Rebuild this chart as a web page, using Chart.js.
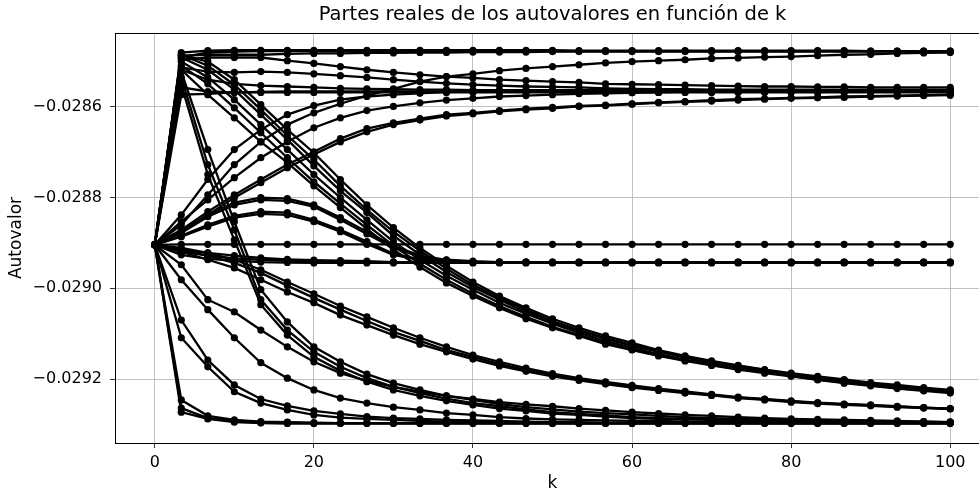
<!DOCTYPE html>
<html>
<head>
<meta charset="utf-8">
<title>Autovalores</title>
<script src="https://cdn.jsdelivr.net/npm/chart.js@4.4.1/dist/chart.umd.min.js"></script>
<style>
  html, body { margin: 0; padding: 0; background: #fff; overflow: hidden; }
  canvas { display: block; }
</style>
</head>
<body>
<canvas id="chart" width="1000" height="495"></canvas>
<script>
// k = linspace(0, 100, 31)
const kValues = [0, 3.333, 6.667, 10, 13.333, 16.667, 20, 23.333, 26.667, 30, 33.333,
  36.667, 40, 43.333, 46.667, 50, 53.333, 56.667, 60, 63.333, 66.667,
  70, 73.333, 76.667, 80, 83.333, 86.667, 90, 93.333, 96.667, 100];

const xTicks = [0, 20, 40, 60, 80, 100];
const yTicks = [-0.0286, -0.0288, -0.0290, -0.0292];

// ── upper branch (-0.02848) ──
const top1 = [-0.028904, -0.028480, -0.028476, -0.028475, -0.028475, -0.028475, -0.028475, -0.028475, -0.028475, -0.028475, -0.028475,
  -0.028475, -0.028475, -0.028475, -0.028475, -0.028475, -0.028476, -0.028476, -0.028476, -0.028476, -0.028476,
  -0.028476, -0.028476, -0.028476, -0.028476, -0.028476, -0.028476, -0.028477, -0.028477, -0.028477, -0.028477];
const top2 = [-0.028904, -0.028487, -0.028485, -0.028485, -0.028485, -0.028483, -0.028482, -0.028482, -0.028481, -0.028481, -0.028480,
  -0.028480, -0.028479, -0.028479, -0.028479, -0.028478, -0.028478, -0.028478, -0.028478, -0.028478, -0.028478,
  -0.028478, -0.028478, -0.028478, -0.028478, -0.028478, -0.028478, -0.028478, -0.028478, -0.028478, -0.028478];
const top3 = [-0.028904, -0.028491, -0.028480, -0.028478, -0.028477, -0.028477, -0.028477, -0.028477, -0.028477, -0.028477, -0.028477,
  -0.028477, -0.028477, -0.028477, -0.028477, -0.028477, -0.028477, -0.028477, -0.028477, -0.028477, -0.028477,
  -0.028477, -0.028477, -0.028477, -0.028477, -0.028477, -0.028477, -0.028477, -0.028477, -0.028477, -0.028477];
const rise1 = [-0.028904, -0.028860, -0.028794, -0.028727, -0.028677, -0.028639, -0.028613, -0.028593, -0.028575, -0.028560, -0.028544,
  -0.028533, -0.028527, -0.028520, -0.028515, -0.028511, -0.028507, -0.028503, -0.028500, -0.028498, -0.028496,
  -0.028493, -0.028492, -0.028490, -0.028489, -0.028487, -0.028485, -0.028484, -0.028482, -0.028481, -0.028480];

// ── second branch (-0.02856) ──
const mid1 = [-0.028904, -0.028496, -0.028491, -0.028491, -0.028491, -0.028498, -0.028504, -0.028511, -0.028518, -0.028524, -0.028529,
  -0.028533, -0.028536, -0.028540, -0.028542, -0.028544, -0.028546, -0.028549, -0.028550, -0.028551, -0.028552,
  -0.028553, -0.028554, -0.028555, -0.028555, -0.028556, -0.028556, -0.028557, -0.028557, -0.028557, -0.028557];
const mid2 = [-0.028904, -0.028513, -0.028522, -0.028524, -0.028522, -0.028524, -0.028527, -0.028531, -0.028535, -0.028540, -0.028544,
  -0.028548, -0.028551, -0.028553, -0.028555, -0.028556, -0.028557, -0.028559, -0.028560, -0.028561, -0.028561,
  -0.028562, -0.028562, -0.028562, -0.028562, -0.028562, -0.028562, -0.028562, -0.028562, -0.028562, -0.028562];
const flat1 = [-0.028904, -0.028518, -0.028540, -0.028549, -0.028553, -0.028555, -0.028557, -0.028559, -0.028560, -0.028561, -0.028562,
  -0.028562, -0.028563, -0.028563, -0.028563, -0.028563, -0.028563, -0.028563, -0.028563, -0.028563, -0.028563,
  -0.028563, -0.028563, -0.028563, -0.028563, -0.028563, -0.028563, -0.028564, -0.028564, -0.028564, -0.028564];
const flat2 = [-0.028904, -0.028557, -0.028566, -0.028568, -0.028568, -0.028568, -0.028568, -0.028568, -0.028568, -0.028568, -0.028568,
  -0.028568, -0.028568, -0.028568, -0.028568, -0.028568, -0.028568, -0.028568, -0.028568, -0.028568, -0.028568,
  -0.028568, -0.028568, -0.028568, -0.028568, -0.028568, -0.028568, -0.028568, -0.028568, -0.028568, -0.028568];
const flat3 = [-0.028904, -0.028573, -0.028571, -0.028568, -0.028567, -0.028566, -0.028566, -0.028566, -0.028566, -0.028566, -0.028566,
  -0.028566, -0.028566, -0.028566, -0.028566, -0.028566, -0.028566, -0.028566, -0.028566, -0.028566, -0.028566,
  -0.028566, -0.028566, -0.028566, -0.028566, -0.028566, -0.028566, -0.028566, -0.028566, -0.028566, -0.028566];
const up1 = [-0.028904, -0.028871, -0.028831, -0.028794, -0.028760, -0.028727, -0.028699, -0.028670, -0.028648, -0.028635, -0.028626,
  -0.028617, -0.028613, -0.028608, -0.028604, -0.028601, -0.028598, -0.028596, -0.028593, -0.028590, -0.028588,
  -0.028585, -0.028583, -0.028582, -0.028580, -0.028579, -0.028577, -0.028576, -0.028575, -0.028574, -0.028573];
const up2 = [-0.028904, -0.028853, -0.028805, -0.028756, -0.028712, -0.028677, -0.028646, -0.028624, -0.028608, -0.028599, -0.028591,
  -0.028585, -0.028581, -0.028577, -0.028575, -0.028573, -0.028571, -0.028570, -0.028569, -0.028568, -0.028567,
  -0.028567, -0.028566, -0.028566, -0.028566, -0.028566, -0.028566, -0.028566, -0.028566, -0.028566, -0.028566];
const up3 = [-0.028904, -0.028875, -0.028838, -0.028800, -0.028767, -0.028734, -0.028705, -0.028677, -0.028655, -0.028639, -0.028629,
  -0.028620, -0.028615, -0.028610, -0.028606, -0.028603, -0.028599, -0.028597, -0.028594, -0.028591, -0.028589,
  -0.028587, -0.028585, -0.028583, -0.028581, -0.028580, -0.028579, -0.028577, -0.028576, -0.028575, -0.028574];
const up4 = [-0.028904, -0.028838, -0.028760, -0.028694, -0.028650, -0.028617, -0.028597, -0.028584, -0.028577, -0.028573, -0.028570,
  -0.028567, -0.028566, -0.028566, -0.028566, -0.028566, -0.028566, -0.028566, -0.028566, -0.028566, -0.028566,
  -0.028566, -0.028566, -0.028566, -0.028566, -0.028566, -0.028566, -0.028566, -0.028566, -0.028566, -0.028566];

// ── branches falling to -0.02922 ──
const down1 = [-0.028904, -0.028485, -0.028500, -0.028540, -0.028595, -0.028650, -0.028701, -0.028760, -0.028816, -0.028866, -0.028911,
  -0.028950, -0.028986, -0.029017, -0.029043, -0.029067, -0.029087, -0.029105, -0.029120, -0.029136, -0.029149,
  -0.029160, -0.029170, -0.029179, -0.029187, -0.029194, -0.029201, -0.029208, -0.029213, -0.029219, -0.029224];
const down2 = [-0.028904, -0.028491, -0.028518, -0.028562, -0.028617, -0.028672, -0.028730, -0.028785, -0.028833, -0.028884, -0.028926,
  -0.028964, -0.028997, -0.029025, -0.029052, -0.029074, -0.029094, -0.029111, -0.029127, -0.029140, -0.029153,
  -0.029164, -0.029173, -0.029182, -0.029190, -0.029198, -0.029204, -0.029211, -0.029216, -0.029222, -0.029226];
const down3 = [-0.028904, -0.028500, -0.028535, -0.028584, -0.028639, -0.028694, -0.028749, -0.028800, -0.028849, -0.028897, -0.028937,
  -0.028972, -0.029003, -0.029032, -0.029056, -0.029078, -0.029098, -0.029116, -0.029131, -0.029145, -0.029157,
  -0.029167, -0.029176, -0.029184, -0.029192, -0.029200, -0.029206, -0.029213, -0.029219, -0.029224, -0.029228];
const down4 = [-0.028904, -0.028509, -0.028549, -0.028602, -0.028657, -0.028712, -0.028765, -0.028813, -0.028860, -0.028906, -0.028946,
  -0.028981, -0.029012, -0.029039, -0.029063, -0.029085, -0.029103, -0.029120, -0.029135, -0.029148, -0.029159,
  -0.029169, -0.029178, -0.029185, -0.029193, -0.029201, -0.029208, -0.029214, -0.029220, -0.029225, -0.029228];
const down5 = [-0.028904, -0.028485, -0.028509, -0.028551, -0.028606, -0.028663, -0.028716, -0.028774, -0.028827, -0.028875, -0.028917,
  -0.028957, -0.028992, -0.029021, -0.029047, -0.029072, -0.029092, -0.029109, -0.029125, -0.029138, -0.029151,
  -0.029162, -0.029171, -0.029180, -0.029189, -0.029196, -0.029203, -0.029210, -0.029215, -0.029221, -0.029226];
const down6 = [-0.028904, -0.028518, -0.028573, -0.028624, -0.028677, -0.028723, -0.028774, -0.028822, -0.028869, -0.028915, -0.028953,
  -0.028988, -0.029017, -0.029043, -0.029067, -0.029087, -0.029105, -0.029123, -0.029136, -0.029149, -0.029160,
  -0.029170, -0.029179, -0.029187, -0.029194, -0.029202, -0.029209, -0.029215, -0.029221, -0.029226, -0.029231];

// ── steep drops from the top into the lowest branch ──
const drop1 = [-0.028904, -0.028522, -0.028694, -0.028853, -0.029003, -0.029074, -0.029129, -0.029162, -0.029189, -0.029209, -0.029224,
  -0.029237, -0.029246, -0.029255, -0.029262, -0.029267, -0.029272, -0.029275, -0.029278, -0.029281, -0.029284,
  -0.029286, -0.029288, -0.029289, -0.029290, -0.029291, -0.029292, -0.029292, -0.029294, -0.029294, -0.029295];
const drop2 = [-0.028904, -0.028535, -0.028727, -0.028871, -0.029025, -0.029092, -0.029140, -0.029173, -0.029198, -0.029217, -0.029231,
  -0.029243, -0.029253, -0.029260, -0.029267, -0.029273, -0.029277, -0.029280, -0.029284, -0.029286, -0.029288,
  -0.029289, -0.029290, -0.029291, -0.029292, -0.029292, -0.029294, -0.029294, -0.029295, -0.029295, -0.029295];
const drop3 = [-0.028904, -0.028551, -0.028749, -0.028893, -0.029036, -0.029103, -0.029151, -0.029182, -0.029206, -0.029224, -0.029237,
  -0.029248, -0.029257, -0.029265, -0.029270, -0.029276, -0.029279, -0.029283, -0.029286, -0.029288, -0.029289,
  -0.029290, -0.029291, -0.029292, -0.029292, -0.029294, -0.029294, -0.029295, -0.029295, -0.029295, -0.029296];

// ── gentle slope to -0.02926 ──
const slope1 = [-0.028904, -0.028915, -0.028928, -0.028944, -0.028966, -0.028994, -0.029021, -0.029047, -0.029072, -0.029096, -0.029116,
  -0.029136, -0.029151, -0.029167, -0.029180, -0.029191, -0.029200, -0.029209, -0.029216, -0.029223, -0.029230,
  -0.029235, -0.029241, -0.029245, -0.029249, -0.029253, -0.029256, -0.029258, -0.029261, -0.029263, -0.029265];
const slope2 = [-0.028904, -0.028919, -0.028937, -0.028955, -0.028981, -0.029008, -0.029032, -0.029059, -0.029081, -0.029103, -0.029123,
  -0.029140, -0.029156, -0.029171, -0.029183, -0.029194, -0.029203, -0.029211, -0.029219, -0.029225, -0.029231,
  -0.029236, -0.029242, -0.029246, -0.029251, -0.029254, -0.029257, -0.029259, -0.029262, -0.029264, -0.029266];
const slope3 = [-0.028904, -0.028911, -0.028922, -0.028937, -0.028959, -0.028986, -0.029012, -0.029039, -0.029063, -0.029087, -0.029109,
  -0.029129, -0.029147, -0.029162, -0.029176, -0.029188, -0.029198, -0.029206, -0.029214, -0.029221, -0.029227,
  -0.029234, -0.029240, -0.029244, -0.029248, -0.029252, -0.029255, -0.029257, -0.029260, -0.029263, -0.029265];

// ── lowest branch (-0.02930) ──
const low1 = [-0.028904, -0.029264, -0.029286, -0.029292, -0.029295, -0.029296, -0.029297, -0.029297, -0.029297, -0.029297, -0.029297,
  -0.029297, -0.029297, -0.029297, -0.029297, -0.029297, -0.029297, -0.029297, -0.029297, -0.029297, -0.029297,
  -0.029297, -0.029297, -0.029297, -0.029297, -0.029297, -0.029297, -0.029297, -0.029297, -0.029297, -0.029297];
const low2 = [-0.028904, -0.029273, -0.029288, -0.029295, -0.029297, -0.029298, -0.029298, -0.029298, -0.029298, -0.029298, -0.029298,
  -0.029298, -0.029298, -0.029298, -0.029298, -0.029298, -0.029298, -0.029298, -0.029298, -0.029298, -0.029298,
  -0.029298, -0.029298, -0.029298, -0.029298, -0.029298, -0.029298, -0.029298, -0.029298, -0.029298, -0.029298];
const low3 = [-0.028904, -0.029246, -0.029281, -0.029290, -0.029294, -0.029295, -0.029296, -0.029297, -0.029297, -0.029297, -0.029297,
  -0.029297, -0.029297, -0.029297, -0.029297, -0.029297, -0.029297, -0.029297, -0.029297, -0.029297, -0.029297,
  -0.029297, -0.029297, -0.029297, -0.029297, -0.029297, -0.029297, -0.029297, -0.029297, -0.029297, -0.029297];
const low4 = [-0.028904, -0.029109, -0.029173, -0.029228, -0.029253, -0.029268, -0.029279, -0.029285, -0.029288, -0.029290, -0.029292,
  -0.029294, -0.029295, -0.029295, -0.029296, -0.029296, -0.029297, -0.029297, -0.029297, -0.029297, -0.029297,
  -0.029297, -0.029297, -0.029297, -0.029297, -0.029297, -0.029297, -0.029297, -0.029297, -0.029297, -0.029297];
const low5 = [-0.028904, -0.028981, -0.029047, -0.029109, -0.029164, -0.029198, -0.029224, -0.029242, -0.029253, -0.029262, -0.029268,
  -0.029275, -0.029279, -0.029284, -0.029287, -0.029289, -0.029290, -0.029291, -0.029292, -0.029292, -0.029294,
  -0.029294, -0.029295, -0.029295, -0.029295, -0.029295, -0.029296, -0.029296, -0.029296, -0.029296, -0.029296];
const low6 = [-0.028904, -0.028948, -0.029025, -0.029052, -0.029092, -0.029129, -0.029162, -0.029187, -0.029204, -0.029217, -0.029228,
  -0.029237, -0.029244, -0.029251, -0.029256, -0.029260, -0.029265, -0.029269, -0.029273, -0.029276, -0.029279,
  -0.029281, -0.029284, -0.029286, -0.029288, -0.029289, -0.029290, -0.029291, -0.029292, -0.029294, -0.029295];
const low7 = [-0.028904, -0.029070, -0.029158, -0.029213, -0.029244, -0.029259, -0.029270, -0.029277, -0.029283, -0.029286, -0.029288,
  -0.029290, -0.029291, -0.029292, -0.029294, -0.029295, -0.029295, -0.029296, -0.029296, -0.029296, -0.029296,
  -0.029296, -0.029296, -0.029296, -0.029296, -0.029296, -0.029296, -0.029296, -0.029296, -0.029296, -0.029296];

// ── near the starting value (-0.02890 / -0.02894) ──
const hump1 = [-0.028904, -0.028875, -0.028838, -0.028811, -0.028800, -0.028802, -0.028816, -0.028844, -0.028875, -0.028906, -0.028928,
  -0.028937, -0.028940, -0.028942, -0.028942, -0.028943, -0.028943, -0.028943, -0.028943, -0.028943, -0.028943,
  -0.028943, -0.028943, -0.028943, -0.028943, -0.028943, -0.028943, -0.028943, -0.028943, -0.028943, -0.028943];
const hump2 = [-0.028904, -0.028884, -0.028860, -0.028840, -0.028831, -0.028833, -0.028849, -0.028871, -0.028897, -0.028924, -0.028936,
  -0.028940, -0.028942, -0.028943, -0.028943, -0.028943, -0.028943, -0.028943, -0.028943, -0.028943, -0.028943,
  -0.028943, -0.028943, -0.028943, -0.028943, -0.028943, -0.028943, -0.028943, -0.028943, -0.028943, -0.028943];
const hump3 = [-0.028904, -0.028878, -0.028842, -0.028816, -0.028805, -0.028807, -0.028820, -0.028849, -0.028880, -0.028911, -0.028930,
  -0.028938, -0.028942, -0.028943, -0.028943, -0.028943, -0.028943, -0.028943, -0.028943, -0.028943, -0.028943,
  -0.028943, -0.028943, -0.028943, -0.028943, -0.028943, -0.028943, -0.028943, -0.028943, -0.028943, -0.028943];
const hump4 = [-0.028904, -0.028886, -0.028864, -0.028844, -0.028836, -0.028838, -0.028853, -0.028875, -0.028902, -0.028926, -0.028937,
  -0.028942, -0.028943, -0.028943, -0.028943, -0.028943, -0.028943, -0.028943, -0.028943, -0.028943, -0.028943,
  -0.028943, -0.028943, -0.028943, -0.028943, -0.028943, -0.028943, -0.028943, -0.028943, -0.028943, -0.028943];
const dip1 = [-0.028904, -0.028919, -0.028928, -0.028934, -0.028937, -0.028939, -0.028940, -0.028942, -0.028942, -0.028942, -0.028942,
  -0.028942, -0.028942, -0.028942, -0.028942, -0.028942, -0.028942, -0.028942, -0.028942, -0.028942, -0.028942,
  -0.028942, -0.028942, -0.028942, -0.028942, -0.028942, -0.028942, -0.028942, -0.028942, -0.028942, -0.028942];
const dip2 = [-0.028904, -0.028926, -0.028935, -0.028939, -0.028942, -0.028943, -0.028944, -0.028944, -0.028944, -0.028944, -0.028944,
  -0.028944, -0.028944, -0.028944, -0.028944, -0.028944, -0.028944, -0.028944, -0.028944, -0.028944, -0.028944,
  -0.028944, -0.028944, -0.028944, -0.028944, -0.028944, -0.028944, -0.028944, -0.028944, -0.028944, -0.028944];
const dip3 = [-0.028904, -0.028915, -0.028922, -0.028928, -0.028933, -0.028936, -0.028938, -0.028939, -0.028940, -0.028942, -0.028942,
  -0.028942, -0.028942, -0.028942, -0.028942, -0.028942, -0.028942, -0.028942, -0.028942, -0.028942, -0.028942,
  -0.028942, -0.028942, -0.028942, -0.028942, -0.028942, -0.028942, -0.028942, -0.028942, -0.028942, -0.028942];
const level = [-0.028904, -0.028903, -0.028903, -0.028903, -0.028903, -0.028903, -0.028903, -0.028903, -0.028903, -0.028903, -0.028903,
  -0.028903, -0.028903, -0.028903, -0.028903, -0.028903, -0.028903, -0.028903, -0.028903, -0.028903, -0.028903,
  -0.028903, -0.028903, -0.028903, -0.028903, -0.028903, -0.028903, -0.028903, -0.028903, -0.028903, -0.028903];

const eigenSeries = [top1, top2, top3, rise1, mid1, mid2, flat1, flat2, flat3, up1, up2, up3, up4,
  down1, down2, down3, down4, down5, down6, drop1, drop2, drop3, slope1, slope2, slope3,
  low1, low2, low3, low4, low5, low6, low7, hump1, hump2, hump3, hump4, dip1, dip2, dip3, level];

const FONT = '"DejaVu Sans", "Liberation Sans", sans-serif';
const TITLE = 'Partes reales de los autovalores en función de k';
const fmtY = v => v.toFixed(4).replace('-', '\u2212');

// frame, title and axis names drawn after the plot
const frame = {
  id: 'frame',
  afterDraw(chart) {
    const { ctx, chartArea: a } = chart;
    ctx.save();
    ctx.strokeStyle = '#000';
    ctx.lineWidth = 1;
    ctx.strokeRect(a.left + 0.5, a.top + 0.5, a.right - a.left, a.bottom - a.top);
    ctx.fillStyle = '#000';
    ctx.textAlign = 'center';
    ctx.textBaseline = 'middle';
    const cx = (a.left + a.right) / 2;
    ctx.font = `19.5px ${FONT}`;
    ctx.fillText(TITLE, cx, 15);
    ctx.font = `17px ${FONT}`;
    ctx.fillText('k', cx, 484);
    ctx.translate(17, (a.top + a.bottom) / 2);
    ctx.rotate(-Math.PI / 2);
    ctx.fillText('Autovalor', 0, 0);
    ctx.restore();
  }
};

new Chart(document.getElementById('chart'), {
  type: 'line',
  data: {
    datasets: eigenSeries.map(vals => ({
      data: vals.map((y, i) => ({ x: kValues[i], y })),
      borderColor: '#000',
      backgroundColor: '#000',
      borderWidth: 2.3,
      pointRadius: 3.6,
      pointBorderWidth: 0,
      pointHoverRadius: 3.6,
    })),
  },
  options: {
    responsive: false,
    animation: false,
    devicePixelRatio: 1,
    events: [],
    layout: { padding: { top: 33, right: 10, left: 0, bottom: 0 } },
    plugins: { legend: { display: false }, title: { display: false }, tooltip: { enabled: false } },
    scales: {
      x: {
        type: 'linear',
        min: -5,
        max: 105,
        afterFit: s => { s.height = 52; },
        afterBuildTicks: s => { s.ticks = xTicks.map(v => ({ value: v })); },
        grid: { color: '#b0b0b0', lineWidth: 0.8, tickColor: '#000', tickLength: 5 },
        border: { display: false },
        ticks: { color: '#000', padding: 5, font: { family: FONT, size: 16 }, callback: v => String(v) },
      },
      y: {
        type: 'linear',
        min: -0.029341,
        max: -0.028437,
        afterFit: s => { s.width = 115; },
        afterBuildTicks: s => { s.ticks = yTicks.map(v => ({ value: v })); },
        grid: { color: '#b0b0b0', lineWidth: 0.8, tickColor: '#000', tickLength: 5 },
        border: { display: false },
        ticks: { color: '#000', padding: 8, font: { family: FONT, size: 16 }, callback: v => fmtY(v) },
      },
    },
  },
  plugins: [frame],
});
</script>
</body>
</html>
